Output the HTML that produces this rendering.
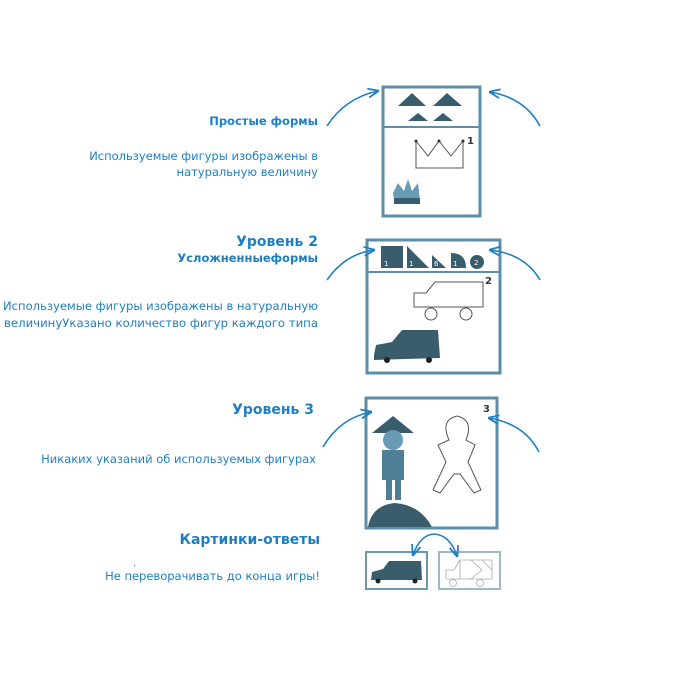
<!DOCTYPE html>
<html><head><meta charset="utf-8"><style>
html,body{margin:0;padding:0;background:#fff;width:700px;height:700px;overflow:hidden}
svg{display:block}
text{font-family:"DejaVu Sans","Liberation Sans",sans-serif;fill:#1f7fc3}
.b{font-weight:bold}
</style></head><body>
<svg width="700" height="700" viewBox="0 0 700 700">
<defs>
<marker id="ah" viewBox="0 0 10 10" refX="9" refY="5" markerWidth="7" markerHeight="7" orient="auto-start-reverse"><path d="M0,1 L10,5 L0,9" fill="none" stroke="#1f7fc3" stroke-width="1.6"/></marker>
</defs>
<!-- texts -->
<text x="318" y="125" text-anchor="end" font-size="11.5" class="b">Простые формы</text>
<text x="318" y="160" text-anchor="end" font-size="11.5">Используемые фигуры изображены в</text>
<text x="318" y="176" text-anchor="end" font-size="11.5">натуральную величину</text>
<text x="318" y="246" text-anchor="end" font-size="14" class="b">Уровень 2</text>
<text x="318" y="262" text-anchor="end" font-size="11.5" class="b">Усложненныеформы</text>
<text x="318" y="310" text-anchor="end" font-size="11.5" textLength="315" lengthAdjust="spacingAndGlyphs">Используемые фигуры изображены в натуральную</text>
<text x="318" y="327" text-anchor="end" font-size="11.5" textLength="314" lengthAdjust="spacingAndGlyphs">величинуУказано количество фигур каждого типа</text>
<text x="314" y="414" text-anchor="end" font-size="14" class="b">Уровень 3</text>
<text x="316" y="463" text-anchor="end" font-size="11.5">Никаких указаний об используемых фигурах</text>
<text x="320" y="544" text-anchor="end" font-size="14" class="b">Картинки-ответы</text>
<text x="133" y="566" font-size="10">.</text>
<text x="320" y="580" text-anchor="end" font-size="11.5">Не переворачивать до конца игры!</text>

<!-- box1 -->
<rect x="383" y="87" width="97" height="129" fill="#fff" stroke="#5d8ea8" stroke-width="3"/>
<line x1="383" y1="127" x2="480" y2="127" stroke="#5d8ea8" stroke-width="2"/>
<g fill="#3a5d6e">
<polygon points="398,106 412,93 426,106"/><polygon points="433,106 447,93 462,106"/>
<polygon points="408,121 418,113 428,121"/><polygon points="433,121 443,113 453,121"/>
</g>
<polyline points="416,141 416,168 463,168 463,141 451,156 439,141 428,156 416,141" fill="none" stroke="#555" stroke-width="1"/>
<circle cx="416" cy="141" r="1.5" fill="#333"/><circle cx="439" cy="141" r="1.5" fill="#333"/><circle cx="463" cy="141" r="1.5" fill="#333"/>
<text x="467" y="144" font-size="10" class="b" style="fill:#333">1</text>
<path d="M393,193 L398,183 L404,191 L408,179 L412,191 L418,183 L420,200 L394,200 Z" fill="#6a9bb6"/>
<rect x="394" y="198" width="26" height="6" fill="#3a5d6e"/>

<!-- box2 -->
<rect x="367" y="240" width="133" height="133" fill="#fff" stroke="#5d8ea8" stroke-width="3"/>
<line x1="367" y1="272" x2="500" y2="272" stroke="#5d8ea8" stroke-width="2"/>
<g fill="#3a5d6e">
<rect x="381" y="246" width="22" height="22"/>
<polygon points="407,246 407,268 429,268"/>
<polygon points="432,268 446,268 432,255"/>
<path d="M451,268 L451,253 Q466,253 466,268 Z"/>
<circle cx="477" cy="262" r="7"/>
</g>
<g font-size="7"><text x="384" y="266" style="fill:#fff">1</text><text x="409" y="266" style="fill:#fff">1</text><text x="434" y="266" style="fill:#fff">6</text><text x="453" y="266" style="fill:#fff">1</text><text x="474" y="265" style="fill:#fff">2</text></g>
<path d="M414,307 L414,293 L426,293 L435,282 L483,282 L483,307 Z" fill="none" stroke="#555"/>
<circle cx="431" cy="314" r="6" fill="none" stroke="#555"/><circle cx="466" cy="314" r="6" fill="none" stroke="#555"/>
<text x="485" y="284" font-size="10" class="b" style="fill:#333">2</text>
<path d="M374,355 L376,345 L392,342 L402,330 L438,330 L440,358 L374,360 Z" fill="#3a5d6e"/>
<circle cx="387" cy="360" r="3" fill="#222"/><circle cx="429" cy="360" r="3" fill="#222"/>

<!-- box3 -->
<rect x="366" y="398" width="131" height="130" fill="#fff" stroke="#5d8ea8" stroke-width="3"/>
<text x="483" y="412" font-size="10" class="b" style="fill:#333">3</text>
<path d="M368,527 Q372,505 395,503 Q420,505 432,527 Z" fill="#3a5d6e"/>
<polygon points="372,433 393,416 414,433" fill="#3a5d6e"/>
<circle cx="393" cy="440" r="10" fill="#6a9bb6"/>
<rect x="382" y="450" width="22" height="30" fill="#4e7f97"/>
<rect x="386" y="480" width="6" height="20" fill="#4e7f97"/><rect x="395" y="480" width="6" height="20" fill="#4e7f97"/>
<path d="M449,440 Q440,420 457,416 Q474,420 466,440 L475,445 L468,462 L481,490 L474,493 L460,474 L454,474 L440,493 L433,490 L446,462 L438,445 Z" fill="none" stroke="#555"/>

<!-- answer boxes -->
<rect x="366" y="552" width="61" height="37" fill="#fff" stroke="#6d97ad" stroke-width="2"/>
<path d="M371,580 L372,572 L383,569 L389,561 L421,561 L422,580 Z" fill="#3a5d6e"/>
<circle cx="378" cy="581" r="2.5" fill="#222"/><circle cx="415" cy="581" r="2.5" fill="#222"/>
<rect x="439" y="552" width="61" height="37" fill="#fff" stroke="#9fb8c6" stroke-width="2"/>
<path d="M446,579 L446,570 L454,570 L460,560 L492,560 L492,579 Z M460,560 L460,579 M471,560 L482,570 L471,579 M482,560 L492,570" fill="none" stroke="#aaa" stroke-width="0.8"/>
<circle cx="453" cy="583" r="3.5" fill="none" stroke="#aaa" stroke-width="0.8"/><circle cx="480" cy="583" r="3.5" fill="none" stroke="#aaa" stroke-width="0.8"/>

<!-- arrows -->
<g fill="none" stroke="#1f7fc3" stroke-width="1.6">
<path d="M327,126 Q345,98 378,91" marker-end="url(#ah)"/>
<path d="M540,126 Q525,98 490,92" marker-end="url(#ah)"/>
<path d="M327,280 Q345,254 374,250" marker-end="url(#ah)"/>
<path d="M540,280 Q525,254 490,250" marker-end="url(#ah)"/>
<path d="M323,447 Q340,418 371,412" marker-end="url(#ah)"/>
<path d="M539,452 Q525,424 489,418" marker-end="url(#ah)"/>
<path d="M413,555 Q420,535 434,534 Q450,535 457,556" marker-start="url(#ah)" marker-end="url(#ah)"/>
</g>
</svg>
</body></html>
